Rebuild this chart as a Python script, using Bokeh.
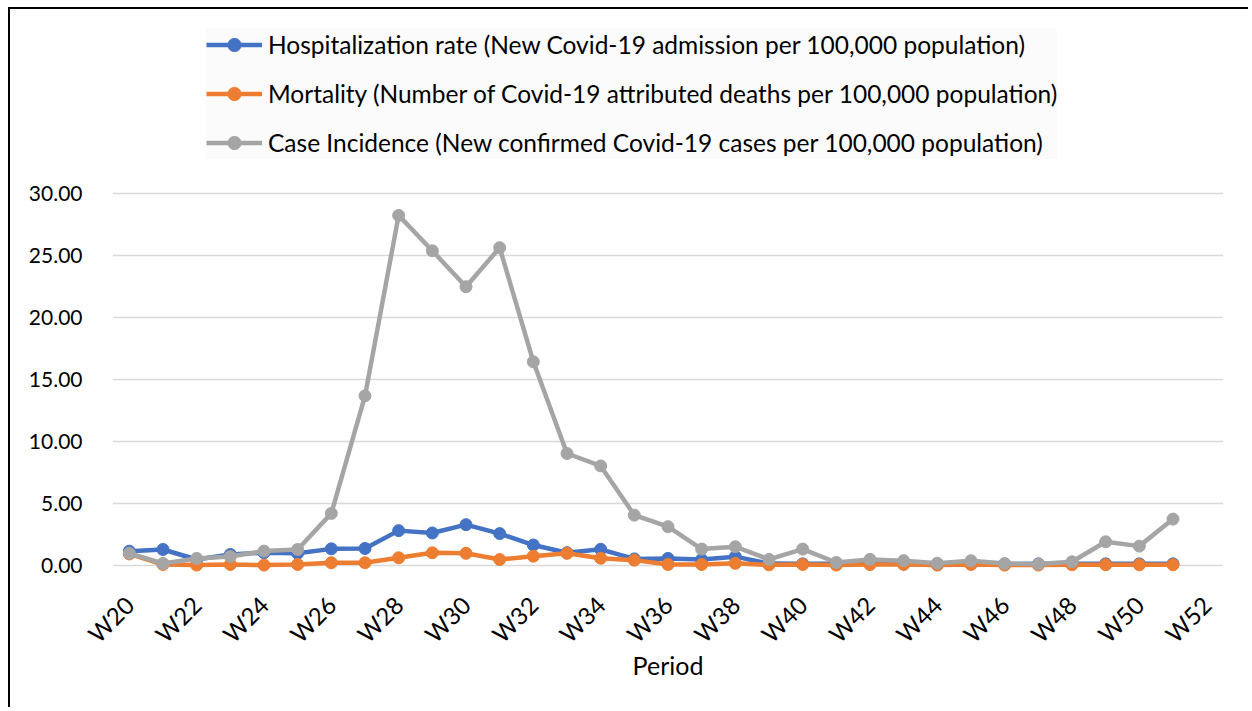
from bokeh.plotting import figure
from bokeh.models import (Range1d, FixedTicker, NumeralTickFormatter,
                          Legend, LegendItem)
from bokeh.embed import file_html
from bokeh.resources import INLINE
from math import pi

weeks = ["W%d" % w for w in range(20, 53)]

hospitalization = [1.12, 1.26, 0.45, 0.86, 1.0, 0.95, 1.31, 1.34, 2.78, 2.59, 3.26, 2.54,
                   1.62, 1.0, 1.27, 0.5, 0.54, 0.45, 0.68, 0.12, 0.1, 0.1, 0.1, 0.1,
                   0.05, 0.1, 0.08, 0.1, 0.1, 0.1, 0.1, 0.1]
mortality = [0.9, 0.05, 0.0, 0.05, 0.0, 0.05, 0.19, 0.19, 0.59, 0.99, 0.95, 0.45,
             0.72, 0.95, 0.55, 0.4, 0.05, 0.05, 0.14, 0.02, 0.05, 0.0, 0.05, 0.05,
             0.0, 0.05, 0.0, 0.0, 0.03, 0.03, 0.03, 0.03]
case_incidence = [0.95, 0.13, 0.54, 0.7, 1.13, 1.26, 4.17, 13.65, 28.2, 25.35, 22.45, 25.6,
                  16.4, 9.0, 8.0, 4.03, 3.1, 1.29, 1.48, 0.46, 1.29, 0.21, 0.46, 0.36,
                  0.15, 0.35, 0.13, 0.08, 0.27, 1.88, 1.53, 3.71]

labels = ["Hospitalization rate (New Covid-19 admission per 100,000 population)",
          "Mortality (Number of Covid-19 attributed deaths per 100,000 population)",
          "Case Incidence (New confirmed Covid-19 cases per 100,000 population)"]
colors = ["#4472C4", "#ED7D31", "#A5A5A5"]
y_ticks = [0, 5, 10, 15, 20, 25, 30]

FONT = "Lato"

# category index positions of the weeks on the x axis
week_pos = {w: i for i, w in enumerate(weeks)}

p = figure(width=1240, height=700, output_backend="svg", toolbar_location=None,
           x_range=Range1d(-0.5, len(weeks) - 0.5),
           y_range=Range1d(-1, 44.645),
           min_border_left=102, min_border_right=27, min_border_top=2, min_border_bottom=132)
p.styles = {"margin-left": "8px", "margin-top": "7px",
            "border-left": "2px solid black", "border-top": "2px solid black"}
p.outline_line_color = None
p.background_fill_color = "white"
p.border_fill_color = "white"

p.xgrid.grid_line_color = None
p.ygrid.grid_line_color = "#d9d9d9"
p.ygrid.grid_line_width = 1.5
p.yaxis.ticker = FixedTicker(ticks=y_ticks)
p.yaxis.formatter = NumeralTickFormatter(format="0.00")

label_weeks = weeks[::2]
p.xaxis.ticker = FixedTicker(ticks=[week_pos[w] for w in label_weeks])
p.xaxis.major_label_overrides = {week_pos[w]: w for w in label_weeks}

for ax in (p.xaxis[0], p.yaxis[0]):
    ax.axis_line_color = None
    ax.major_tick_line_color = None
    ax.minor_tick_line_color = None
    ax.major_label_text_font = FONT
    ax.major_label_text_color = "#000000"

p.yaxis.major_label_text_font_size = "21px"
p.xaxis.major_label_text_font_size = "24px"
p.yaxis.major_label_standoff = 24
p.xaxis.major_label_orientation = pi / 4
p.xaxis.major_label_standoff = 17
p.xaxis.axis_label = "Period"
p.xaxis.axis_label_text_font = FONT
p.xaxis.axis_label_text_font_size = "25px"
p.xaxis.axis_label_text_font_style = "normal"
p.xaxis.axis_label_text_color = "#000000"
p.xaxis.axis_label_standoff = -11

items = []
for series, color, label in zip([hospitalization, mortality, case_incidence], colors, labels):
    xs = [week_pos[w] for w in weeks[:len(series)]]
    r1 = p.line(xs, series, line_color=color, line_width=4.5, line_join="round")
    r2 = p.scatter(xs, series, size=12, fill_color=color, line_color=color)
    items.append(LegendItem(label=label, renderers=[r1, r2]))

legend = Legend(items=items, location=(94, 418), orientation="vertical",
                label_text_font=FONT, label_text_font_size="24.5px", label_text_color="#000000",
                glyph_width=56, glyph_height=33, label_height=33, spacing=16,
                label_standoff=6, padding=8, margin=0,
                background_fill_color="#fbfbfb", background_fill_alpha=1.0,
                border_line_color=None)
p.add_layout(legend, "center")

open("out.html", "w").write(file_html(p, INLINE))
